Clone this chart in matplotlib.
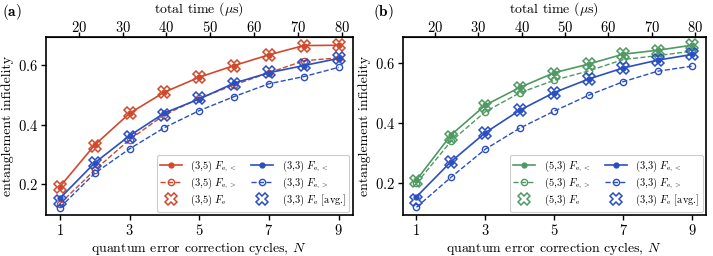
import matplotlib
matplotlib.use('Agg')
from matplotlib import pyplot as plt
import matplotlib.transforms as mtransforms
import numpy as np

plt.rcParams['font.family'] = 'serif'
plt.rcParams['font.serif'] = ['cmr10']
plt.rcParams['mathtext.fontset'] = 'cm'
plt.rcParams['axes.formatter.use_mathtext'] = True
plt.rcParams['font.size'] = 10

# %% Data

N = np.arange(1, 10)

# panel (a)
a35_lt = [0.192, 0.332, 0.438, 0.509, 0.559, 0.598, 0.634, 0.665, 0.666]
a35_gt = [0.135, 0.248, 0.350, 0.433, 0.488, 0.533, 0.574, 0.614, 0.624]
a35_fe = [0.190, 0.330, 0.438, 0.509, 0.559, 0.598, 0.634, 0.665, 0.666]
a33_lt = [0.153, 0.272, 0.363, 0.439, 0.486, 0.539, 0.574, 0.598, 0.622]
a33_gt = [0.122, 0.237, 0.319, 0.390, 0.447, 0.494, 0.537, 0.561, 0.592]
a33_fe = [0.145, 0.272, 0.360, 0.433, 0.488, 0.537, 0.575, 0.600, 0.624]

# panel (b)
b53_lt = [0.211, 0.361, 0.461, 0.520, 0.569, 0.598, 0.631, 0.644, 0.661]
b53_gt = [0.200, 0.340, 0.439, 0.502, 0.544, 0.575, 0.613, 0.626, 0.641]
b53_fe = [0.208, 0.355, 0.458, 0.518, 0.565, 0.597, 0.630, 0.642, 0.660]
b33_lt = [0.155, 0.272, 0.369, 0.444, 0.503, 0.548, 0.585, 0.611, 0.630]
b33_gt = [0.120, 0.220, 0.314, 0.384, 0.441, 0.494, 0.539, 0.574, 0.591]
b33_fe = [0.145, 0.270, 0.369, 0.444, 0.503, 0.548, 0.585, 0.611, 0.630]

# time per cycle (us)
t_slope, t_off = 7.95, 7.75

red = '#d1492c'
blue = '#2a4fc2'
green = '#4f9a62'

# %% Plot

fig = plt.figure(figsize=(7.13, 2.56), dpi=100)
axA = fig.add_axes([0.0645, 0.160, 0.430, 0.697])
axB = fig.add_axes([0.5648, 0.160, 0.4252, 0.694])


def panel(ax, c1, lab1, lt1, gt1, fe1, lt2, gt2, fe2, ylim):
    ax.plot(N, lt1, '-', color=c1, marker='o', ms=3.5, lw=1.2,
            label=lab1 + r' $F_{\mathrm{e},<}$')
    ax.plot(N, gt1, '--', color=c1, marker='o', ms=4.5, mfc='none', lw=1.0,
            label=lab1 + r' $F_{\mathrm{e},>}$')
    ax.plot(N, fe1, ls='none', color=c1, marker='X', ms=9, mfc='none', mew=1.1,
            label=lab1 + r' $F_{\mathrm{e}}$')
    ax.plot(N, lt2, '-', color=blue, marker='o', ms=3.5, lw=1.2,
            label=r'(3,3) $F_{\mathrm{e},<}$')
    ax.plot(N, gt2, '--', color=blue, marker='o', ms=4.5, mfc='none', lw=1.0,
            label=r'(3,3) $F_{\mathrm{e},>}$')
    ax.plot(N, fe2, ls='none', color=blue, marker='X', ms=9, mfc='none', mew=1.1,
            label=r'(3,3) $F_{\mathrm{e}}$ [avg.]')
    ax.set_xlim(0.6, 9.4)
    ax.set_ylim(*ylim)
    ax.set_xticks([1, 3, 5, 7, 9])
    ax.set_yticks([0.2, 0.4, 0.6])
    ax.set_xlabel(r'quantum error correction cycles, $N$', labelpad=2)
    ax.set_ylabel('entanglement infidelity', labelpad=3)
    for s in ax.spines.values(): s.set_linewidth(1.2)
    ax.tick_params(width=1.0, length=3.5, pad=2, labelsize=10.5)
    top = ax.secondary_xaxis('top', functions=(lambda n: t_slope*n + t_off,
                                               lambda t: (t - t_off)/t_slope))
    top.set_xticks([20, 30, 40, 50, 60, 70, 80])
    top.tick_params(width=1.0, length=3.5, pad=-2, labelsize=10.5)
    # top axis title placed by hand, ~9 px below the figure top
    tr = mtransforms.blended_transform_factory(ax.transAxes, fig.transFigure)
    ax.text(0.5, 1 - 9/256, r'total time ($\mu$s)', transform=tr,
            ha='center', va='center', fontsize=10)
    leg = ax.legend(ncol=2, loc='lower right', fontsize=7.5, handlelength=2.1,
                    columnspacing=1.4, handletextpad=0.8, labelspacing=0.2,
                    borderpad=0.35, fancybox=True, framealpha=1,
                    borderaxespad=0.3, bbox_to_anchor=(1.0, 0.0))
    leg.get_frame().set_edgecolor('#cccccc')
    leg.get_frame().set_linewidth(0.8)


panel(axA, red, '(3,5)', a35_lt, a35_gt, a35_fe, a33_lt, a33_gt, a33_fe, (0.097, 0.695))
panel(axB, green, '(5,3)', b53_lt, b53_gt, b53_fe, b33_lt, b33_gt, b33_fe, (0.094, 0.687))

fig.text(0.003, 0.955, r'$\mathbf{(a)}$', fontsize=11, va='center')
fig.text(0.523, 0.955, r'$\mathbf{(b)}$', fontsize=11, va='center')

plt.savefig('out.png', dpi=100)
